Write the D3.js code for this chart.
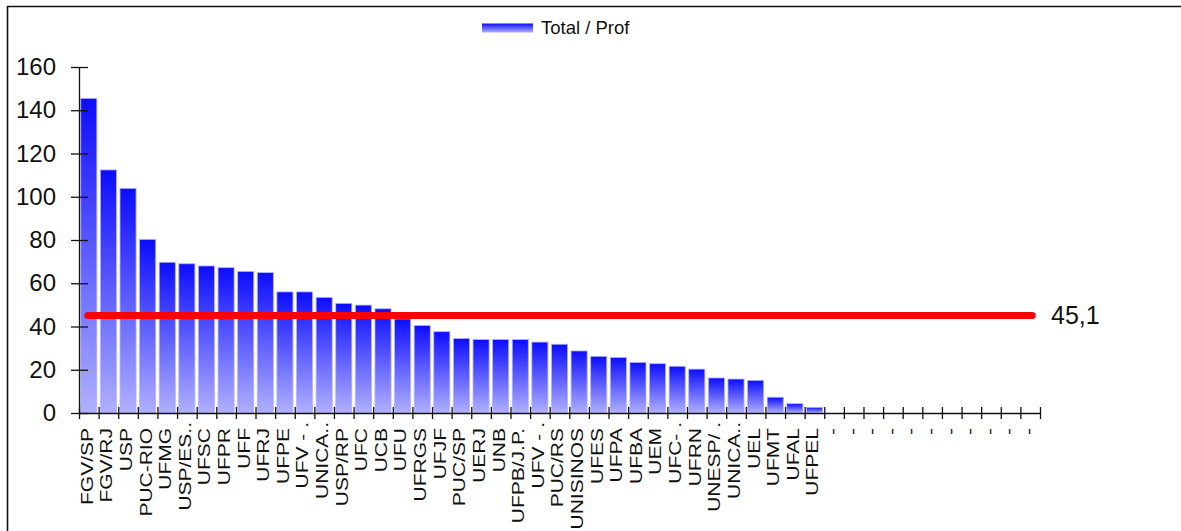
<!DOCTYPE html>
<html>
<head>
<meta charset="utf-8">
<script src="https://cdn.jsdelivr.net/npm/d3@7"></script>
<style>
  html, body { margin: 0; padding: 0; background: #fff; }
  svg { display: block; }
  text { font-family: "Liberation Sans", Arial, sans-serif; fill: #111; }
</style>
</head>
<body>
<svg id="chart" width="1181" height="531"></svg>
<script>
// ---- data ----
const categories = [
  "FGV/SP", "FGV/RJ", "USP", "PUC-RIO", "UFMG", "USP/ES..", "UFSC", "UFPR", "UFF", "UFRJ",
  "UFPE", "UFV - .", "UNICA..", "USP/RP", "UFC", "UCB", "UFU", "UFRGS", "UFJF", "PUC/SP",
  "UERJ", "UNB", "UFPB/J.P.", "UFV - .", "PUC/RS", "UNISINOS", "UFES", "UFPA", "UFBA", "UEM",
  "UFC- .", "UFRN", "UNESP/ .", "UNICA..", "UEL", "UFMT", "UFAL", "UFPEL",
  "-", "-", "-", "-", "-", "-", "-", "-", "-", "-", "-"
];
const totalPerProf = [
  145.5, 112.4, 103.9, 80.3, 69.7, 69.0, 68.0, 67.2, 65.5, 64.9,
  56.0, 56.0, 53.5, 50.7, 49.9, 48.2, 43.5, 40.5, 37.6, 34.5,
  34.0, 34.0, 34.0, 32.8, 31.8, 28.7, 26.2, 25.7, 23.4, 22.8,
  21.6, 20.3, 16.2, 15.7, 15.1, 7.3, 4.3, 2.6,
  0, 0, 0, 0, 0, 0, 0, 0, 0, 0, 0
];
const averageValue = [45.1];
const averageLabels = ["45,1"];
const yTickValues = [0, 20, 40, 60, 80, 100, 120, 140, 160];
const seriesNames = ["Total / Prof"];

// ---- layout ----
const svg = d3.select("#chart");
const mLeft = 79, mRight = 1040, mTop = 67, mBottom = 413;

const idx = d3.range(categories.length);
const x = d3.scaleBand().domain(idx).range([mLeft, mRight]).paddingInner(0.18).paddingOuter(0.09);
const xb = d3.scaleLinear().domain([0, categories.length]).range([mLeft, mRight]);
const y = d3.scaleLinear().domain([0, 160]).range([mBottom, mTop]);

// frame (top and left edges visible)
svg.append("line").attr("x1", 7).attr("x2", 1181).attr("y1", 6.5).attr("y2", 6.5)
  .attr("stroke", "#111").attr("stroke-width", 1.6);
svg.append("line").attr("x1", 7.5).attr("x2", 7.5).attr("y1", 6).attr("y2", 531)
  .attr("stroke", "#111").attr("stroke-width", 1.6);

// gradient
const defs = svg.append("defs");
const grad = defs.append("linearGradient").attr("id", "barGrad")
  .attr("x1", 0).attr("y1", 0).attr("x2", 0).attr("y2", 1);
grad.append("stop").attr("offset", "0%").attr("stop-color", "#0c0cff");
grad.append("stop").attr("offset", "100%").attr("stop-color", "#b0b0ff");

// bars
const barData = totalPerProf.map((v, i) => ({ i, v })).filter(d => d.v > 0);
svg.append("g").selectAll("rect").data(barData).join("rect")
  .attr("x", d => x(d.i))
  .attr("y", d => y(d.v))
  .attr("width", x.bandwidth())
  .attr("height", d => y(0) - y(d.v))
  .attr("fill", "url(#barGrad)")
  .attr("stroke", "#b4b4ff")
  .attr("stroke-width", 0.8);

// y axis
const yAxis = svg.append("g").attr("transform", `translate(${mLeft},0)`)
  .call(d3.axisLeft(y).tickValues(yTickValues).tickSize(8).tickSizeOuter(0).tickPadding(15));
yAxis.select(".domain").attr("stroke", "#111").attr("stroke-width", 1.3);
yAxis.selectAll(".tick line").attr("x2", 9).attr("x1", -8).attr("stroke", "#111").attr("stroke-width", 1.3);
yAxis.selectAll(".tick text").attr("font-size", 24).attr("font-family", "Liberation Sans, Arial, sans-serif").attr("fill", "#111");

// x axis
const xAxis = svg.append("g").attr("transform", `translate(0,${mBottom})`)
  .call(d3.axisBottom(xb).tickValues(d3.range(categories.length + 1)).tickSize(6).tickSizeOuter(0).tickFormat(""));
xAxis.select(".domain").attr("stroke", "#111").attr("stroke-width", 1.3);
xAxis.selectAll(".tick line").attr("y1", -6).attr("y2", 6).attr("stroke", "#111").attr("stroke-width", 1.3);

// x labels
svg.append("g").selectAll("text").data(categories).join("text")
  .attr("transform", (d, i) => `translate(${x(i) + x.bandwidth() / 2 - 2},${d.endsWith(".") && d !== "UFPB/J.P." ? 422 : 428}) rotate(-90) scale(1,0.8)`)
  .attr("text-anchor", "end")
  .attr("dy", "0.35em")
  .attr("font-size", 21)
  .attr("fill", "#000")
  .text(d => d);

// average line
svg.append("g").selectAll("line").data(averageValue).join("line")
  .attr("x1", x(0) + x.bandwidth() / 2 - 1)
  .attr("x2", x(categories.length - 1) + x.bandwidth() / 2 + 2)
  .attr("y1", d => y(d)).attr("y2", d => y(d))
  .attr("stroke", "#ff0000").attr("stroke-width", 7).attr("stroke-linecap", "round");
svg.append("g").selectAll("text").data(averageValue).join("text")
  .attr("x", 1051).attr("y", d => y(d) + 9)
  .attr("font-size", 25)
  .text((d, i) => averageLabels[i]);

// legend
const lg = svg.append("g").selectAll("g").data(seriesNames).join("g");
lg.append("rect").attr("x", 482).attr("y", 23.5).attr("width", 51).attr("height", 9)
  .attr("fill", "url(#barGrad)");
lg.append("text").attr("x", 541).attr("y", 34).attr("font-size", 18.5).text(d => d);
</script>
</body>
</html>
